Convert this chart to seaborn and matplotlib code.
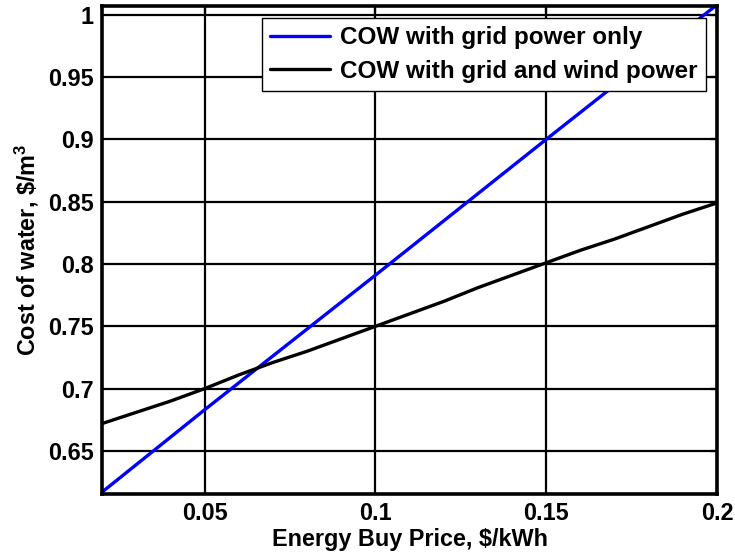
import matplotlib
matplotlib.use("Agg")
import matplotlib.pyplot as plt
import seaborn as sns
import pandas as pd

# Energy buy price ($/kWh) and cost of water ($/m^3) for each scenario
price_grid = [0.02, 0.05, 0.10, 0.15, 0.20]
cow_grid = [0.617, 0.683, 0.791, 0.900, 1.008]

price_wind = [0.02, 0.03, 0.04, 0.05, 0.06, 0.07, 0.08, 0.09, 0.10, 0.11,
              0.12, 0.13, 0.14, 0.15, 0.16, 0.17, 0.18, 0.19, 0.20]
cow_wind = [0.672, 0.681, 0.690, 0.700, 0.711, 0.721, 0.730, 0.740, 0.750, 0.760,
            0.770, 0.781, 0.791, 0.801, 0.811, 0.820, 0.830, 0.840, 0.849]

series_names = ["COW with grid power only", "COW with grid and wind power"]
series_colors = ["#0000ff", "#000000"]

x_ticks = [0.05, 0.1, 0.15, 0.2]
x_ticklabels = ["0.05", "0.1", "0.15", "0.2"]
y_ticks = [0.65, 0.7, 0.75, 0.8, 0.85, 0.9, 0.95, 1.0]
y_ticklabels = ["0.65", "0.7", "0.75", "0.8", "0.85", "0.9", "0.95", "1"]

df = pd.concat([
    pd.DataFrame({"price": price_grid, "cow": cow_grid, "case": series_names[0]}),
    pd.DataFrame({"price": price_wind, "cow": cow_wind, "case": series_names[1]}),
], ignore_index=True)

sns.set_style("white")
plt.rcParams["font.family"] = ["Liberation Sans", "DejaVu Sans"]
plt.rcParams["font.weight"] = "bold"
plt.rcParams["text.color"] = "black"
plt.rcParams["axes.labelcolor"] = "black"
plt.rcParams["xtick.color"] = "black"
plt.rcParams["ytick.color"] = "black"
plt.rcParams["mathtext.fontset"] = "custom"
plt.rcParams["mathtext.rm"] = "Liberation Sans:bold"
plt.rcParams["mathtext.default"] = "rm"

FS = 16.8

fig = plt.figure(figsize=(7.35, 5.56), dpi=100)
ax = fig.add_axes([0.1388, 0.1115, 0.8367, 0.8777])

sns.lineplot(data=df, x="price", y="cow", hue="case", hue_order=series_names,
             palette=series_colors, linewidth=2.4, ax=ax, estimator=None,
             sort=False)

ax.set_xlim(0.02, 0.2)
ax.set_ylim(0.6155, 1.007)
ax.set_xticks(x_ticks)
ax.set_xticklabels(x_ticklabels)
ax.set_yticks(y_ticks)
ax.set_yticklabels(y_ticklabels)

ax.grid(True, color="black", linewidth=1.6, linestyle="-")
ax.set_axisbelow(True)
for s in ax.spines.values():
    s.set_visible(True)
    s.set_color("black")
    s.set_linewidth(2.6)

ax.tick_params(axis="both", direction="in", length=5, width=1.6,
               labelsize=FS, colors="black", labelcolor="black", pad=6,
               top=True, right=True)
for lab in ax.get_xticklabels() + ax.get_yticklabels():
    lab.set_fontweight("bold")
    lab.set_color("black")

ax.set_xlabel(r"Energy Buy Price, \$/kWh", fontsize=FS,
              fontweight="bold", color="black", labelpad=2)
ax.set_ylabel(r"Cost of water, \$/m$^{3}$", fontsize=FS,
              fontweight="bold", color="black", labelpad=5)

leg = ax.legend(loc="upper right", bbox_to_anchor=(0.9816, 0.9748),
                borderaxespad=0, frameon=True, fancybox=False,
                edgecolor="black", framealpha=1,
                handlelength=2.5, handletextpad=0.4, borderpad=0.33,
                labelspacing=0.42, prop={"weight": "bold", "size": 17.5})
leg.get_frame().set_linewidth(1.0)
for t in leg.get_texts():
    t.set_color("black")

fig.savefig("out.png", dpi=100, facecolor="white")
